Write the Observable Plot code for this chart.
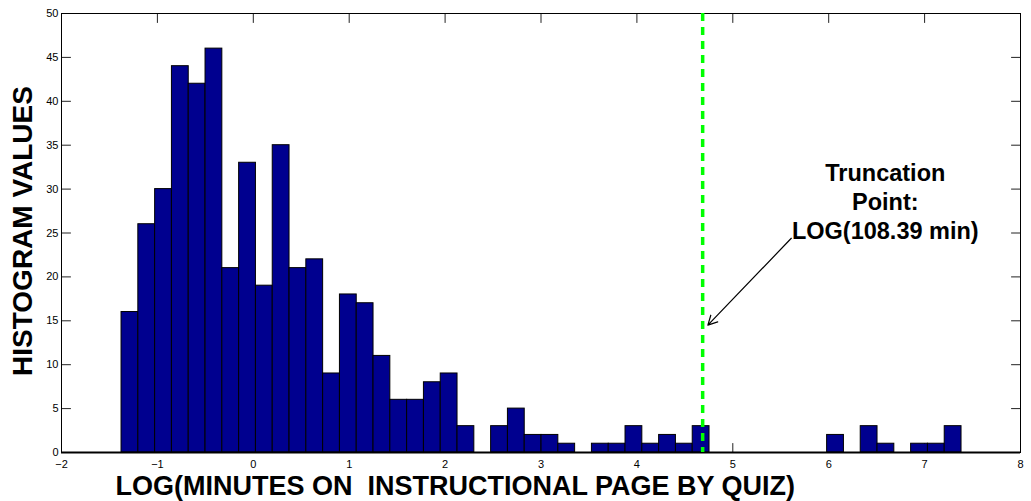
<!DOCTYPE html>
<html><head><meta charset="utf-8">
<script src="https://cdn.jsdelivr.net/npm/d3@7"></script>
<script src="https://cdn.jsdelivr.net/npm/@observablehq/plot@0.6"></script>
<style>body{margin:0;background:#fff} svg{display:block}</style>
</head><body><div id="chart"></div>
<script>
// Histogram counts (50 bins)
const counts = [16,26,30,44,42,46,21,33,19,35,
                21,22,9,18,17,11,6,6,8,9,
                3,0,3,5,2,2,1,0,1,1,
                3,1,2,1,3,0,0,0,0,0,
                0,0,2,0,3,1,0,1,1,3];
// data range covered by the bins (log minutes)
const binRange = [-1.374, 7.385];
const xTicks = [-2,-1,0,1,2,3,4,5,6,7,8];
const yTicks = [0,5,10,15,20,25,30,35,40,45,50];
const truncation = [Math.log(108.39)];
const annotationText = ["Truncation\nPoint:\nLOG(108.39 min)"];
const annotationPos = [{x: 6.59, y: 28.7}];
const arrowPos = [{x1: 5.61, y1: 24.4, x2: 4.74, y2: 14.5}];
const xLabel = ["LOG(MINUTES ON  INSTRUCTIONAL PAGE BY QUIZ)"];
const yLabel = ["HISTOGRAM VALUES"];

const binWidth = (binRange[1] - binRange[0]) / counts.length;
const bins = counts.map((c, i) => ({x1: binRange[0] + i * binWidth, x2: binRange[0] + (i + 1) * binWidth, count: c}));
const notes = annotationText.map((t, i) => ({text: t, ...annotationPos[i]}));

const tickShape = {draw(context, l) { context.moveTo(0, 0); context.lineTo(0, -l); }};
const font = "'Liberation Sans', Arial, Helvetica, sans-serif";

const chart = Plot.plot({
  width: 1031, height: 501,
  marginLeft: 61, marginRight: 11, marginTop: 13, marginBottom: 49,
  style: {fontFamily: font, background: "#fff", color: "#000"},
  x: {domain: [-2, 8], label: null},
  y: {domain: [0, 50], label: null},
  marks: [
    // inward ticks on all four sides (beneath the bars)
    Plot.vector(xTicks, {x: d => d, y: 0, length: 9, rotate: 0, anchor: "start", shape: tickShape, stroke: "#222", strokeWidth: 1}),
    Plot.vector(xTicks, {x: d => d, y: 50, length: 9, rotate: 180, anchor: "start", shape: tickShape, stroke: "#222", strokeWidth: 1}),
    Plot.vector(yTicks, {x: -2, y: d => d, length: 9, rotate: 90, anchor: "start", shape: tickShape, stroke: "#222", strokeWidth: 1}),
    Plot.vector(yTicks, {x: 8, y: d => d, length: 9, rotate: 270, anchor: "start", shape: tickShape, stroke: "#222", strokeWidth: 1}),
    Plot.rectY(bins, {x1: "x1", x2: "x2", y: "count", fill: "#00008f", stroke: "#000", strokeWidth: 1}),
    Plot.frame({stroke: "#000", strokeWidth: 1}),
    Plot.ruleY([0], {stroke: "#000", strokeWidth: 2}),
    Plot.ruleX(truncation, {stroke: "#00ff00", strokeWidth: 3.5, strokeDasharray: "8,6"}),
    Plot.arrow(arrowPos, {x1: "x1", y1: "y1", x2: "x2", y2: "y2", stroke: "#000", strokeWidth: 1.2, headLength: 13, headAngle: 55}),
    Plot.text(notes, {x: "x", y: "y", text: "text", fontSize: 23.5, fontWeight: "bold", lineHeight: 1.23, textAnchor: "middle", lineAnchor: "middle", fill: "#000"}),
    Plot.axisX(xTicks, {tickSize: 0, tickPadding: 8, fontSize: 11, label: null}),
    Plot.axisY(yTicks, {tickSize: 0, tickPadding: 3, fontSize: 11, label: null}),
    Plot.text(xLabel, {frameAnchor: "bottom-left", text: d => d, dx: 54, dy: 23, textAnchor: "start", lineAnchor: "top", fontSize: 27, fontWeight: "bold", fill: "#000"}),
    Plot.text(yLabel, {frameAnchor: "left", text: d => d, dx: -38, dy: -2, rotate: -90, textAnchor: "middle", lineAnchor: "middle", fontSize: 28, fontWeight: "bold", fill: "#000"})
  ]
});
document.getElementById("chart").appendChild(chart);
</script>
</body></html>
